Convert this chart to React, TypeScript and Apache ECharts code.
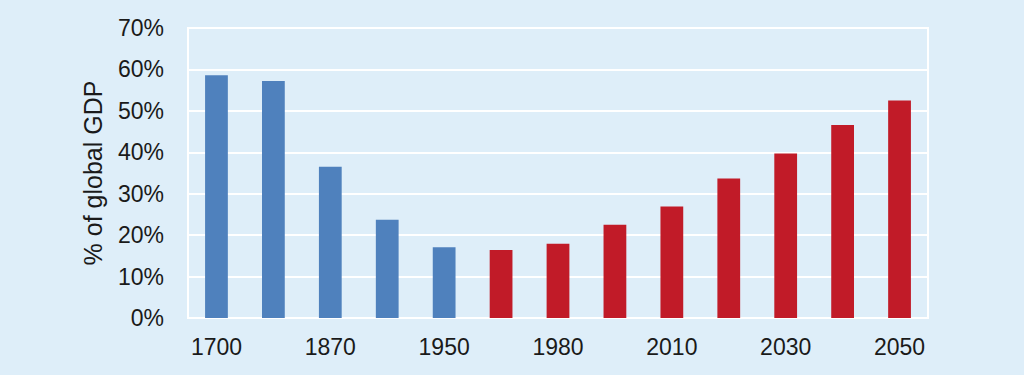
import React, { useEffect, useRef } from "react";
import * as echarts from "echarts";

const years = ["1700", "1820", "1870", "1913", "1950", "1973", "1980", "2000", "2010", "2020", "2030", "2040", "2050"];
const shares = [58.6, 57.2, 36.5, 23.7, 17.1, 16.4, 17.9, 22.5, 26.9, 33.7, 39.7, 46.6, 52.5];
const isProjection = [false, false, false, false, false, true, true, true, true, true, true, true, true];
const yTicks = { min: 0, max: 70, interval: 10 };
const yAxisTitle = "% of global GDP";

const BLUE = "#4f81bd";
const RED = "#c11b28";
const BG = "#deeef9";
const FONT = "'Liberation Sans', Arial, sans-serif";

export default function App() {
  const ref = useRef<HTMLDivElement>(null);
  useEffect(() => {
    document.body.style.margin = "0";
    document.body.style.background = BG;
    const chart = echarts.init(ref.current!, null, { renderer: "svg" });
    chart.setOption({
      animation: false,
      backgroundColor: BG,
      textStyle: { fontFamily: FONT },
      grid: {
        left: 188,
        top: 28,
        width: 740,
        height: 290,
        show: true,
        borderColor: "#ffffff",
        borderWidth: 2,
        backgroundColor: "transparent",
      },
      xAxis: {
        type: "category",
        data: years,
        axisLine: { show: true, lineStyle: { color: "#ffffff", width: 2 } },
        axisTick: { show: false },
        axisLabel: {
          interval: 1,
          color: "#1a1a1a",
          fontSize: 23,
          fontFamily: FONT,
          margin: 17,
        },
      },
      yAxis: {
        type: "value",
        min: yTicks.min,
        max: yTicks.max,
        interval: yTicks.interval,
        name: yAxisTitle,
        nameLocation: "middle",
        nameGap: 83,
        nameRotate: 90,
        nameTextStyle: { color: "#1a1a1a", fontSize: 25, fontFamily: FONT },
        axisLine: { show: false },
        axisTick: { show: false },
        splitLine: { lineStyle: { color: "#ffffff", width: 2 } },
        axisLabel: {
          formatter: "{value}%",
          color: "#1a1a1a",
          fontSize: 23,
          fontFamily: FONT,
          margin: 24,
        },
      },
      series: [
        {
          type: "bar",
          barWidth: "40%",
          data: shares.map((v, i) => ({
            value: v,
            itemStyle: { color: isProjection[i] ? RED : BLUE },
          })),
        },
      ],
    });
    return () => chart.dispose();
  }, []);
  return <div ref={ref} style={{ width: 1024, height: 375 }} />;
}
